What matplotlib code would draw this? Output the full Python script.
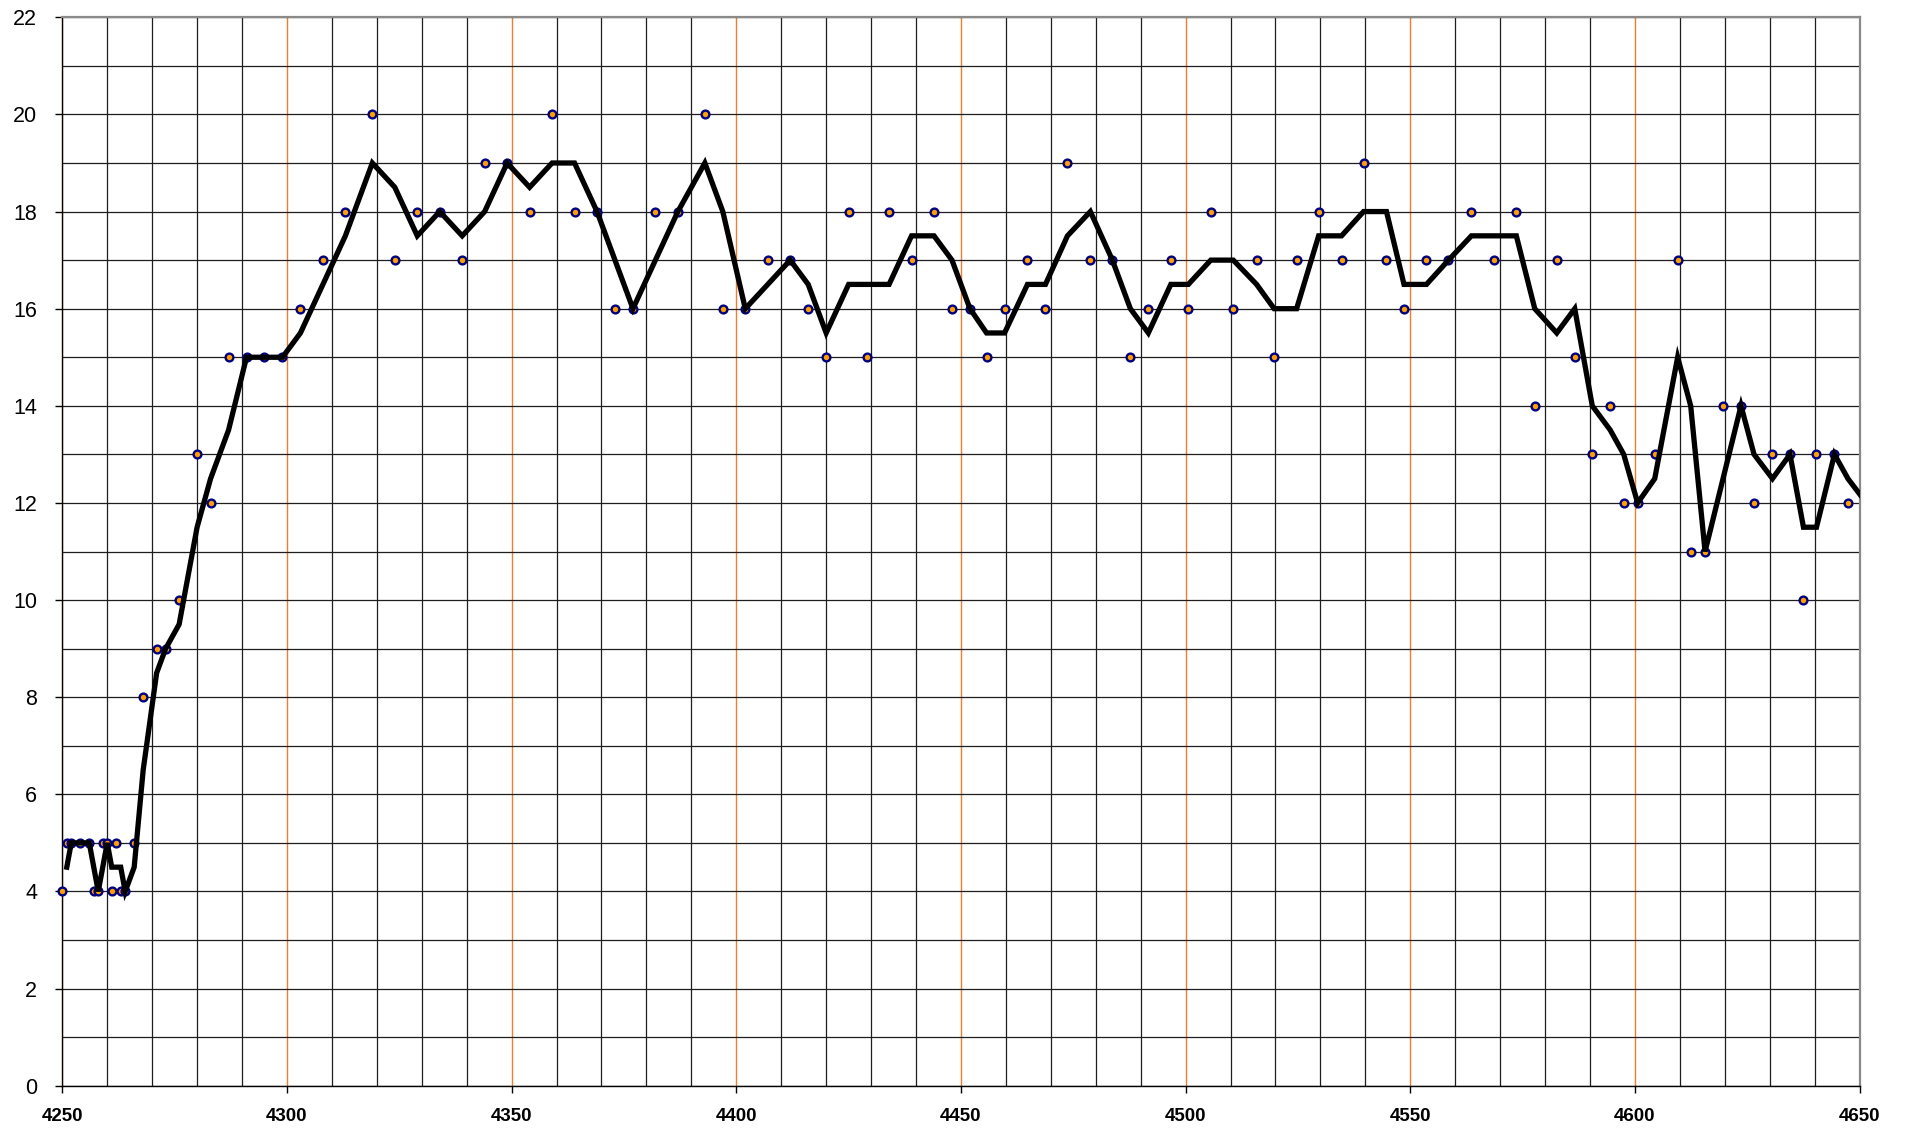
import matplotlib
matplotlib.use("Agg")
import matplotlib.pyplot as plt
from matplotlib.ticker import MultipleLocator
import numpy as np
import pandas as pd

# ---- data ----
x_vals = [4250, 4251, 4252, 4254, 4256, 4257, 4258, 4259, 4260, 4261, 4262, 4263, 4264,
          4266, 4268, 4271, 4273, 4276, 4280, 4283, 4287, 4291, 4295, 4299, 4303, 4308,
          4313, 4319, 4324, 4329, 4334, 4339, 4344, 4349, 4354, 4359, 4364, 4369, 4373,
          4377, 4382, 4387, 4393, 4397, 4402, 4407, 4412, 4416, 4420, 4425, 4429, 4434,
          4439, 4444, 4448, 4452, 4455.7, 4459.7, 4464.8, 4468.8, 4473.7, 4478.8, 4483.7,
          4487.7, 4491.7, 4496.7, 4500.6, 4505.6, 4510.6, 4515.8, 4519.7, 4524.7, 4529.6,
          4534.7, 4539.6, 4544.7, 4548.6, 4553.6, 4558.5, 4563.6, 4568.6, 4573.6, 4577.7,
          4582.6, 4586.6, 4590.5, 4594.5, 4597.5, 4600.6, 4604.4, 4609.5, 4612.4, 4615.6,
          4619.6, 4623.6, 4626.5, 4630.6, 4634.5, 4637.5, 4640.4, 4644.4, 4647.4, 4651.5]
y_vals = [4, 5, 5, 5, 5, 4, 4, 5, 5, 4, 5, 4, 4,
          5, 8, 9, 9, 10, 13, 12, 15, 15, 15, 15, 16, 17,
          18, 20, 17, 18, 18, 17, 19, 19, 18, 20, 18, 18, 16,
          16, 18, 18, 20, 16, 16, 17, 17, 16, 15, 18, 15, 18,
          17, 18, 16, 16, 15, 16, 17, 16, 19, 17, 17,
          15, 16, 17, 16, 18, 16, 17, 15, 17, 18,
          17, 19, 17, 16, 17, 17, 18, 17, 18, 14,
          17, 15, 13, 14, 12, 12, 13, 17, 11, 11,
          14, 14, 12, 13, 13, 10, 13, 13, 12, 12]

x_limits = (4250, 4650)
y_limits = (0, 22)
ma_window = 2

# ---- derived: 2-period moving average trendline ----
df = pd.DataFrame({"x": x_vals, "y": y_vals})
df["ma"] = df["y"].rolling(ma_window).mean()

plt.rcParams["font.family"] = ["Liberation Sans", "DejaVu Sans"]

fig = plt.figure(figsize=(19.08, 11.34), dpi=100)
ax = fig.add_axes([0.03265, 0.04259, 0.9420, 0.94215])

ax.set_xlim(*x_limits)
ax.set_ylim(*y_limits)

ax.xaxis.set_major_locator(MultipleLocator(50))
ax.xaxis.set_minor_locator(MultipleLocator(10))
ax.yaxis.set_major_locator(MultipleLocator(2))
ax.yaxis.set_minor_locator(MultipleLocator(1))

ax.set_axisbelow(True)
ax.xaxis.grid(True, which="major", color="#F07E2C", linewidth=1.0)
ax.xaxis.grid(True, which="minor", color="#1e1e1e", linewidth=0.9)
ax.yaxis.grid(True, which="both", color="#1e1e1e", linewidth=0.9)

# moving-average line
ma = df.dropna()
ax.plot(ma["x"], ma["ma"], color="black", linewidth=3.8, zorder=4,
        solid_joinstyle="miter")

# scatter points (only within the visible range, unclipped at edges)
vis = df[(df["x"] >= x_limits[0]) & (df["x"] <= x_limits[1])]
ax.plot(vis["x"], vis["y"], linestyle="none", marker="o", markersize=5.6,
        markerfacecolor="#FFA000", markeredgecolor="#000080", markeredgewidth=1.7,
        zorder=3, clip_on=False)

# spines
for s in ("left", "bottom"):
    ax.spines[s].set_color("black")
    ax.spines[s].set_linewidth(1.0)
for s in ("top", "right"):
    ax.spines[s].set_color("#8a8a8a")
    ax.spines[s].set_linewidth(1.6)

ax.tick_params(axis="both", which="minor", length=0)
ax.tick_params(axis="y", which="major", length=5, width=1.0, direction="out",
               pad=13, labelsize=15.5, colors="black")
ax.tick_params(axis="x", which="major", length=5, width=1.0, direction="out",
               pad=11, labelsize=13.5)
for lab in ax.get_xticklabels():
    lab.set_fontweight("bold")

fig.savefig("out.png", dpi=100, facecolor="white")
